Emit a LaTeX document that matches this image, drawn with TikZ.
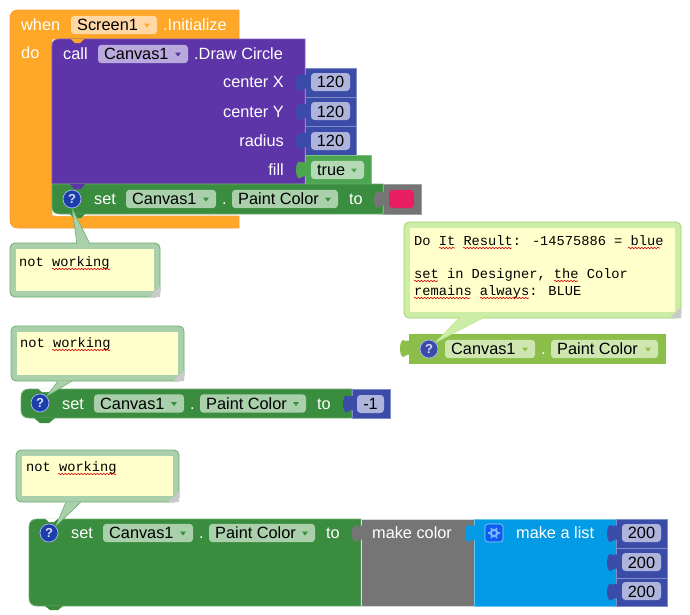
\documentclass[tikz,border=0pt]{standalone}
\usepackage{fontspec}
\setmainfont{Liberation Sans}
\newfontfamily\cmtfont{Liberation Mono}
\usetikzlibrary{decorations.pathmorphing}
\definecolor{orangeB}{HTML}{FFA726}
\definecolor{orangeE}{HTML}{F2A040}
\definecolor{orangeF}{HTML}{FFD8A6}
\definecolor{purpleB}{HTML}{5E35A9}
\definecolor{purpleE}{HTML}{7C5CBC}
\definecolor{purpleF}{HTML}{B9A9DC}
\definecolor{indigoB}{HTML}{3B4CA8}
\definecolor{indigoE}{HTML}{7F8CC8}
\definecolor{indigoF}{HTML}{AEB4DC}
\definecolor{greenB}{HTML}{3A8C3E}
\definecolor{greenE}{HTML}{6FAD72}
\definecolor{greenF}{HTML}{A9D0AB}
\definecolor{trueB}{HTML}{4CA64F}
\definecolor{trueF}{HTML}{B3DAB5}
\definecolor{limeB}{HTML}{8BBF4A}
\definecolor{limeF}{HTML}{CFE6B0}
\definecolor{limeC}{HTML}{CBEDA5}
\definecolor{greyB}{HTML}{757575}
\definecolor{blueB}{HTML}{039BE5}
\definecolor{pinkF}{HTML}{E91E63}
\definecolor{noteF}{HTML}{FFFFCC}
\definecolor{helpB}{HTML}{1B3FA8}
\definecolor{gearB}{HTML}{0D5CF0}
\definecolor{gearF}{HTML}{7FB4FF}
\tikzset{
  lbl/.style={text=white,anchor=base west,inner sep=0pt,font=\fontsize{16.3}{18}\selectfont},
  lblr/.style={text=white,anchor=base east,inner sep=0pt,font=\fontsize{16.3}{18}\selectfont},
  fld/.style={text=black,anchor=base west,inner sep=0pt,font=\fontsize{16.3}{18}\selectfont},
  num/.style={text=black,anchor=base,inner sep=0pt,font=\fontsize{16.3}{18}\selectfont},
  cmt/.style={text=black,anchor=base west,inner sep=0pt,font=\cmtfont\fontsize{13.7}{15}\selectfont},
  helpdot/.style={circle,inner sep=0pt,minimum size=18pt,draw=white!70!blue,line width=.7pt,text=white!85!blue,font=\bfseries\fontsize{13}{13}\selectfont},
  wavy/.style={draw=red!85!black,line width=.6pt,decorate,decoration={snake,amplitude=.7pt,segment length=3.2pt}}
}
% x1 y1 x2 y2 fill edge
\newcommand{\blk}[6]{\fill[#5,draw=#6,line width=.7pt] (#1,#2) rectangle (#3,#4);}
% x y colour : input tab on a left edge
\newcommand{\puz}[3]{\fill[#3] (#1+1,#2-.5) -- (#1-1.5,#2-.5) .. controls (#1-3,#2+1.5) and (#1-4,#2-1) .. (#1-6,#2-1) .. controls (#1-10,#2+1) and (#1-10,#2+14) .. (#1-6,#2+16) .. controls (#1-4,#2+16) and (#1-3,#2+13.5) .. (#1-1,#2+13.5) -- (#1+1,#2+13.5) -- cycle;}
% x1 x2 yc fill arrow
\newcommand{\fldbox}[5]{\fill[#4,rounded corners=3.5pt] (#1,#3-9.2) rectangle (#2,#3+9.2);
  \fill[#5] (#2-13,#3-1.5) -- (#2-7,#3-1.5) -- (#2-10,#3+2.5) -- cycle;}
% x1 y1 x2 y2 colour edge
\newcommand{\notebox}[7]{\fill[#5,draw=#6,line width=.8pt,rounded corners=5pt] (#1,#2) rectangle (#3,#4);
  \node[fill=noteF,inner sep=0pt,minimum width=#3-#1-12pt,minimum height=#4-#2-12pt] (#7) at ({(#1+#3)/2},{(#2+#4)/2}) {};
  \fill[gray!45] (#3,#4-11) -- (#3,#4) -- (#3-11,#4) -- cycle;
  \draw[white!70!gray,line width=.6pt] (#3,#4-8) -- (#3-8,#4) (#3,#4-4) -- (#3-4,#4);}
% tip base1 base2
\newcommand{\pointer}[5]{\fill[#5] (#1) -- (#2) -- (#3) -- cycle; \draw[#4,line width=.6pt] (#1) -- (#2) (#1) -- (#3);}
\begin{document}
\begin{tikzpicture}[x=1pt,y=-1pt]
\useasboundingbox (0,0) rectangle (690,614);
\fill[white] (0,0) rectangle (690,614);
% ---- first stack
\fill[orangeB,draw=orangeE,line width=.7pt] (18,10) -- (239,10) -- (239,39) -- (52,39) -- (52,216) -- (239,216) -- (239,228) -- (18,228) .. controls (13,228) and (10,225) .. (10,220) -- (10,18) .. controls (10,13) and (13,10) .. (18,10) -- cycle;
\fill[white,rounded corners=5pt] (52,200) -- (52,216) -- (90,216) -- (90,200) -- cycle;
\fill[purpleB,draw=purpleE,line width=.7pt] (52,46) .. controls (52,41) and (55,39) .. (60,39) -- (305,39) -- (305,184) -- (52,184) -- cycle;
\fill[orangeB] (71,39) -- (75,43) -- (80,43) -- (84,39) -- cycle;
\blk{305}{68}{356}{97}{indigoB}{indigoE}
\blk{305}{97}{356}{126}{indigoB}{indigoE}
\blk{305}{126}{356}{155}{indigoB}{indigoE}
\fill[trueB,draw=trueB!70!white,line width=.7pt] (305,155) -- (371,155) -- (371,184) -- (305,184) -- cycle;
\puz{305}{75}{indigoB}
\puz{305}{104.5}{indigoB}
\puz{305}{133.5}{indigoB}
\puz{305}{162.5}{trueB}
\fill[greenB,draw=greenE,line width=.7pt] (52,184) -- (383,184) -- (383,214) -- (60,214) .. controls (55,214) and (52,212) .. (52,207) -- cycle;
\fill[purpleB] (70,184) -- (74,189) -- (81,189) -- (85,184) -- cycle;
\fill[greenB] (70,214) -- (74,218) -- (81,218) -- (85,214) -- cycle;
\blk{383}{184}{421}{214}{greyB}{greyB!70!white}
\puz{383}{192}{greyB}
\node[lbl] (t1) at (21,30) {when};
\fldbox{71}{157}{25}{orangeF}{orangeB}
\node[fld] (t2) at (77,30) {Screen1};
\node[lbl] (t3) at (163,30) {.Initialize};
\node[lbl] (t4) at (21,58) {do};
\node[lbl] (t5) at (63,59) {call};
\fldbox{98}{188}{54}{purpleF}{purpleB}
\node[fld] (t6) at (104,59) {Canvas1};
\node[lbl] (t7) at (194,59) {.Draw Circle};
\node[lblr] (t8) at (284,87) {center X};
\node[lblr] (t9) at (284,117) {center Y};
\node[lblr] (t10) at (284,146) {radius};
\node[lblr] (t11) at (284,175) {fill};
\fill[indigoF,rounded corners=3.5pt] (311,73) rectangle (350,91);
\fill[indigoF,rounded corners=3.5pt] (311,102) rectangle (350,120);
\fill[indigoF,rounded corners=3.5pt] (311,132) rectangle (350,150);
\node[num] (n1) at (330.5,87) {120};
\node[num] (n2) at (330.5,117) {120};
\node[num] (n3) at (330.5,146) {120};
\fldbox{311}{364}{170}{trueF}{trueB}
\node[fld] (t12) at (317,175) {true};
\node[lbl] (t13) at (94,204) {set};
\fldbox{126}{216}{199}{greenF}{greenB}
\node[fld] (t14) at (132,204) {Canvas1};
\node[lbl] (t15) at (222,204) {.};
\fldbox{232}{338}{199}{greenF}{greenB}
\node[fld] (t16) at (238,204) {Paint Color};
\node[lbl] (t17) at (349,204) {to};
\fill[pinkF,rounded corners=3.5pt] (389,190) rectangle (414,208);
% note 1
\notebox{10}{243}{160}{297}{greenF}{greenE}{c1}
\node[helpdot,fill=helpB] (h1) at (72,199) {?};
\coordinate (p1a) at (77,244);
\coordinate (p1b) at (90,244);
\pointer{h1.south}{p1a}{p1b}{greenE}{greenF}
\node[cmt] (x1) at (19,266) {not working};
\draw[wavy] (52,269) -- (110,269);
% ---- right
\notebox{404}{222}{681}{318}{limeC}{limeB!60!limeC}{c2}
\blk{409}{334}{665}{363}{limeB}{limeB}
\puz{409}{341}{limeB}
\node[helpdot,fill=indigoB] (h2) at (429,349) {?};
\coordinate (p2a) at (460,317);
\coordinate (p2b) at (485,317);
\pointer{h2.north east}{p2a}{p2b}{limeC!85!limeB}{limeC}
\fldbox{445}{535}{349}{limeF}{limeB}
\node[fld] (t18) at (451,354) {Canvas1};
\node[lbl] (t19) at (541,354) {.};
\fldbox{551}{658}{349}{limeF}{limeB}
\node[fld] (t20) at (557,354) {Paint Color};
\node[cmt] (x2) at (414,245) {Do It Result: -14575886 = blue};
\node[cmt] (x3) at (414,278) {set in Designer, the Color};
\node[cmt] (x4) at (414,295) {remains always: BLUE};
\draw[wavy] (439,248) -- (455,248);
\draw[wavy] (463,248) -- (512,248);
\draw[wavy] (628,248) -- (660,248);
\draw[wavy] (414,281) -- (438,281);
\draw[wavy] (554,281) -- (578,281);
\draw[wavy] (414,298) -- (470,298);
\draw[wavy] (480,298) -- (529,298);
% ---- second set block
\notebox{11}{326}{184}{381}{greenF}{greenE}{c3}
\fill[greenB,draw=greenE,line width=.7pt] (29,389) -- (352,389) -- (352,418) -- (29,418) .. controls (24,418) and (21,415) .. (21,410) -- (21,397) .. controls (21,392) and (24,389) .. (29,389) -- cycle;
\fill[greenB] (34,418) -- (40,423) -- (49,423) -- (55,418) -- cycle;
\fill[white] (38,388.4) -- (42,392) -- (49,392) -- (53,388.4) -- cycle;
\blk{352}{389}{390}{418}{indigoB}{indigoE}
\puz{352}{396.5}{indigoB}
\node[helpdot,fill=helpB] (h3) at (40,403) {?};
\coordinate (p3a) at (58,381);
\coordinate (p3b) at (72,381);
\pointer{h3.north east}{p3a}{p3b}{greenE}{greenF}
\node[lbl] (t21) at (62,409) {set};
\fldbox{94}{184}{403.5}{greenF}{greenB}
\node[fld] (t22) at (100,409) {Canvas1};
\node[lbl] (t23) at (190,409) {.};
\fldbox{200}{306}{403.5}{greenF}{greenB}
\node[fld] (t24) at (206,409) {Paint Color};
\node[lbl] (t25) at (317,409) {to};
\fill[indigoF,rounded corners=3.5pt] (357,395) rectangle (384,413);
\node[num] (n4) at (370.5,409) {-1};
\node[cmt] (x5) at (20,347) {not working};
\draw[wavy] (52,350) -- (110,350);
% ---- third set block
\notebox{16}{450}{179}{502}{greenF}{greenE}{c4}
\fill[greenB,draw=greenE,line width=.7pt] (37,519) -- (361,519) -- (361,606) -- (37,606) .. controls (32,606) and (29,603) .. (29,598) -- (29,527) .. controls (29,522) and (32,519) .. (37,519) -- cycle;
\fill[greenB] (45,606) -- (50,610) -- (58,610) -- (63,606) -- cycle;
\fill[white] (45,518.4) -- (49,522) -- (54,522) -- (58,518.4) -- cycle;
\blk{361}{519}{474}{606}{greyB}{white!70!gray}
\blk{474}{519}{616}{606}{blueB}{blueB!60!white}
\blk{616}{519}{667}{548}{indigoB}{indigoE}
\blk{616}{548}{667}{578}{indigoB}{indigoE}
\blk{616}{578}{667}{606}{indigoB}{indigoE}
\puz{361}{526}{greyB}
\puz{474}{526}{blueB}
\puz{616}{526}{indigoB}
\puz{616}{555}{indigoB}
\puz{616}{584.5}{indigoB}
\node[helpdot,fill=helpB] (h4) at (49,533) {?};
\coordinate (p4a) at (66,502);
\coordinate (p4b) at (81,502);
\pointer{h4.north east}{p4a}{p4b}{greenE}{greenF}
\node[lbl] (t26) at (71,538) {set};
\fldbox{103}{193}{533}{greenF}{greenB}
\node[fld] (t27) at (109,538) {Canvas1};
\node[lbl] (t28) at (199,538) {.};
\fldbox{209}{315}{533}{greenF}{greenB}
\node[fld] (t29) at (215,538) {Paint Color};
\node[lbl] (t30) at (326,538) {to};
\node[lbl] (t31) at (372,538) {make color};
\fill[gearB,draw=white!60!blueB,line width=.6pt,rounded corners=3pt] (485,524) rectangle (503,542);
\draw[gearF,line width=2pt] (494,533) circle (3.2pt);
\foreach \a in {0,60,...,300}{\draw[gearF,line width=1.6pt] (494,533)++(\a:3.8pt) -- ++(\a:2pt);}
\node[lbl] (t32) at (516,538) {make a list};
\fill[indigoF,rounded corners=3.5pt] (622,524) rectangle (661,542);
\fill[indigoF,rounded corners=3.5pt] (622,553) rectangle (661,571);
\fill[indigoF,rounded corners=3.5pt] (622,582) rectangle (661,600);
\node[num] (n5) at (641.5,538) {200};
\node[num] (n6) at (641.5,568) {200};
\node[num] (n7) at (641.5,597) {200};
\node[cmt] (x6) at (26,471) {not working};
\draw[wavy] (58,474) -- (116,474);
\end{tikzpicture}
\end{document}
